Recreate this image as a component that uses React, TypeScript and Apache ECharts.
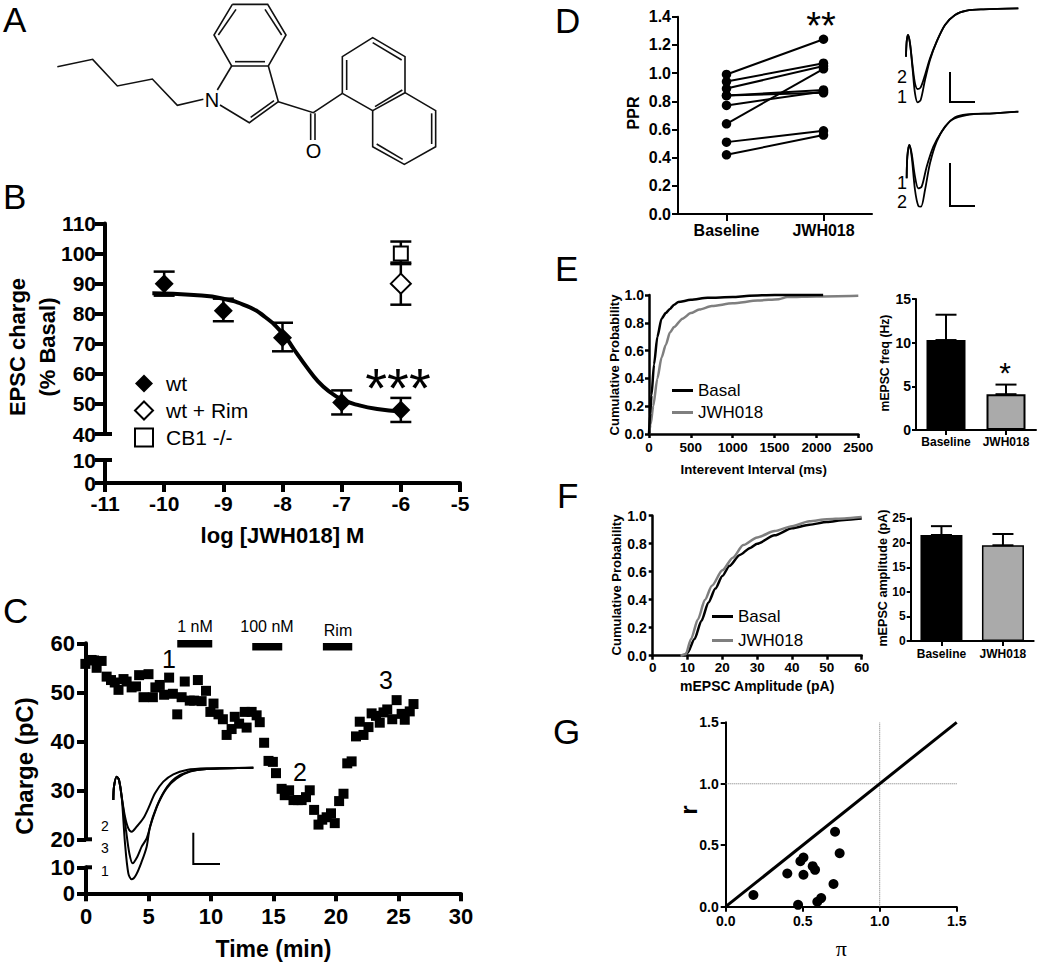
import React, { useEffect, useRef } from "react";
import * as echarts from "echarts";

const FONT = "Liberation Sans";

// Panel B
const bDoses = [-10, -9, -8, -7, -6];
const bWt = [90, 81, 72, 50.5, 48];
const bWtLow = [86, 77.5, 67.5, 46.5, 44];
const bWtHigh = [94, 85, 77, 54.5, 52];
const bRim = [[-6, 90]];
const bRimErr = [[-6, 83, 96.5]];
const bCb1 = [[-6, 100]];
const bCb1Err = [[-6, 97, 104]];
const bFit = [[-10.2, 86.8], [-9.5, 86.2], [-9, 85], [-8.6, 82.5], [-8.3, 79], [-8, 73.5], [-7.8, 68], [-7.6, 62.5], [-7.4, 57.5], [-7.2, 54], [-7, 51.5], [-6.7, 49.5], [-6.4, 48.3], [-6, 47.5]];

// Panel C
const cCharge = [
  [-0.05, 55.8], [0.45, 56.6], [0.65, 56.5], [0.85, 55], [1.25, 56.4], [1.65, 53.2], [2, 52.5], [2.3, 52], [2.6, 50.5], [3, 52.7],
  [3.25, 52.2], [3.65, 51], [4, 51.2], [4.25, 53.5], [4.6, 49], [5, 53.7], [5.35, 49], [5.55, 51], [5.9, 51.5], [6.25, 49.5],
  [6.65, 53], [6.95, 49.7], [7.3, 45.5], [7.65, 49], [7.9, 52.2], [8.3, 48.3], [8.65, 48.3], [8.95, 52.5], [9.25, 48.2], [9.6, 50.3],
  [10.2, 47.7], [9.95, 46], [10.6, 45.5], [10.95, 44.5], [11.25, 41.3], [11.65, 42.5], [11.9, 45], [12.25, 43.6], [12.7, 46], [12.85, 42.8],
  [13.25, 46], [13.65, 45.3], [13.9, 43.9], [14.25, 39.7], [14.6, 36], [14.95, 35.8], [15.2, 33.5], [15.65, 30.3], [15.9, 29], [16.25, 30],
  [16.6, 28], [16.95, 28], [17.25, 28], [17.6, 28.6], [17.9, 30], [18.25, 26], [18.6, 23], [18.9, 24], [19.25, 24.5], [19.6, 25.3],
  [19.9, 23.3], [20.25, 27.8], [20.6, 29.3], [20.9, 35.5], [21.25, 35.9], [21.6, 41], [21.9, 44], [22.2, 41.3], [22.6, 42.9], [22.85, 45.7],
  [23.2, 45.2], [23.5, 43.8], [23.8, 45.9], [24.1, 46.5], [24.5, 44.5], [24.85, 48.4], [25.25, 45.6], [25.5, 44.4], [25.9, 46.1], [26.2, 47.6],
];
const cBar1nM = [[7.3, 59.9], [10.1, 59.9]];
const cBar100nM = [[13.3, 59.3], [15.7, 59.3]];
const cBarRim = [[18.95, 59.3], [21.3, 59.3]];
const cTrace2 = [[340, 630], [342, 590], [350, 560], [357, 570], [365, 620], [375, 680], [385, 715], [395, 725], [410, 710], [430, 685], [445, 655], [465, 610], [490, 575], [520, 553], [560, 540], [620, 535], [760, 533]];
const cTrace3 = [[340, 630], [342, 590], [350, 560], [357, 570], [365, 620], [378, 720], [388, 790], [398, 820], [412, 800], [425, 770], [440, 745], [455, 695], [475, 640], [500, 595], [530, 565], [570, 545], [620, 537], [760, 533]];
const cTrace1 = [[340, 630], [342, 590], [350, 560], [357, 570], [365, 620], [375, 760], [385, 850], [395, 868], [408, 855], [425, 815], [440, 770], [450, 710], [470, 650], [495, 600], [525, 565], [565, 545], [620, 537], [760, 533]];

// Panel D
const dCategories = ["Baseline", "JWH018"];
const dBaseline = [0.99, 0.94, 0.89, 0.84, 0.84, 0.77, 0.64, 0.51, 0.42];
const dJwh = [1.24, 1.07, 1.05, 0.86, 0.88, 0.87, 1.03, 0.59, 0.56];
const dTopTrace2 = [[1068, 170], [1070, 125], [1074, 105], [1080, 130], [1088, 200], [1095, 250], [1103, 267], [1112, 262], [1125, 225], [1140, 175], [1160, 125], [1185, 75], [1215, 45], [1250, 32], [1300, 28], [1405, 25]];
const dTopTrace1 = [[1068, 170], [1070, 125], [1074, 105], [1080, 130], [1088, 210], [1095, 280], [1103, 307], [1112, 300], [1125, 240], [1140, 180], [1160, 125], [1185, 75], [1215, 45], [1250, 32], [1300, 28], [1405, 25]];
const dLowTrace1 = [[1070, 535], [1072, 470], [1078, 435], [1085, 460], [1095, 530], [1105, 565], [1115, 560], [1130, 500], [1150, 440], [1175, 395], [1205, 360], [1250, 345], [1330, 340], [1405, 335]];
const dLowTrace2 = [[1070, 535], [1072, 470], [1078, 435], [1085, 470], [1095, 570], [1105, 618], [1113, 620], [1125, 570], [1140, 490], [1160, 425], [1185, 380], [1215, 352], [1250, 343], [1330, 340], [1405, 335]];

// Panel E
const eBasal = [[0, 0], [15, 0.15], [30, 0.28], [60, 0.5], [100, 0.7], [150, 0.83], [200, 0.87], [250, 0.9], [300, 0.93], [350, 0.95], [500, 0.965], [700, 0.98], [1000, 0.985], [1200, 0.995], [1500, 1], [2080, 1]];
const eJwh = [[0, 0], [20, 0.07], [50, 0.2], [100, 0.4], [150, 0.55], [200, 0.64], [250, 0.73], [300, 0.77], [400, 0.83], [500, 0.87], [600, 0.895], [750, 0.92], [1000, 0.94], [1300, 0.96], [1550, 0.97], [1650, 0.985], [2000, 0.99], [2500, 0.995]];
const eBars = [10.3, 4.1];
const eBarErr = [13.2, 5.2];

// Panel F
const fBasal = [[9, 0], [10, 0.02], [12, 0.12], [14, 0.25], [16, 0.38], [18, 0.48], [20, 0.57], [22, 0.64], [25, 0.72], [28, 0.77], [30, 0.8], [35, 0.86], [40, 0.91], [45, 0.935], [50, 0.955], [55, 0.97], [60, 0.98]];
const fJwh = [[8, 0], [9.5, 0.01], [11, 0.12], [13, 0.26], [15, 0.4], [17, 0.5], [20, 0.61], [23, 0.7], [26, 0.79], [30, 0.845], [35, 0.89], [40, 0.925], [45, 0.96], [50, 0.975], [55, 0.98], [60, 0.99]];
const fBars = [21.6, 19.5];
const fBarErr = [23.4, 21.8];

// Panel G
const gPoints = [[0.18, 0.095], [0.4, 0.27], [0.47, 0.015], [0.485, 0.37], [0.505, 0.4], [0.505, 0.26], [0.565, 0.33], [0.58, 0.3], [0.595, 0.04], [0.62, 0.07], [0.7, 0.185], [0.71, 0.61], [0.74, 0.435]];
const gIdentity = [[0, 0], [1.5, 1.5]];
const gGuideV = [[1, 0], [1, 1.5]];
const gGuideH = [[0, 1], [1.5, 1]];

// Panel A: skeletal formula strokes, in units of a third of a pixel
const moleculeStrokes = [
  [[172, 200], [278, 178], [352, 258], [457, 237], [532, 316], [610, 298]],
  [[697, 13], [803, 13], [858, 105], [805, 198], [695, 198], [642, 105], [697, 13]],
  [[708, 28], [655, 105]], [[795, 28], [845, 105]], [[705, 185], [795, 185]],
  [[695, 198], [652, 270]], [[660, 315], [748, 368], [835, 305], [805, 198]], [[752, 352], [822, 302]],
  [[835, 305], [940, 338], [1027, 280]], [[932, 340], [932, 420]], [[945, 340], [945, 420]],
  [[1027, 280], [1027, 170], [1118, 113], [1215, 170], [1215, 278], [1118, 332], [1027, 280]],
  [[1040, 180], [1040, 270]], [[1118, 128], [1205, 180]], [[1125, 320], [1207, 270]],
  [[1215, 278], [1307, 332], [1307, 440], [1213, 493], [1118, 440], [1118, 332]],
  [[1295, 340], [1295, 432]], [[1208, 478], [1130, 432]],
];

function buildOption() {
  const grid: any[] = [];
  const xAxis: any[] = [];
  const yAxis: any[] = [];
  const series: any[] = [];

  const axisBase = (lw: number, tick: number, size: number, margin: number, digits?: number) => ({
    axisLine: { show: true, onZero: false, lineStyle: { color: "#000", width: lw } },
    axisTick: { show: true, length: tick, lineStyle: { color: "#000", width: lw } },
    axisLabel: {
      color: "#000", fontFamily: FONT, fontWeight: "bold", fontSize: size, margin, interval: 0,
      formatter: digits !== undefined ? (v: number) => v.toFixed(digits) : (v: any) => String(v),
    },
    splitLine: { show: false },
  });
  const hidden = { show: false, splitLine: { show: false } };
  const addGrid = (box: number[], x: any, y: any) => {
    grid.push({ left: box[0], top: box[1], width: box[2], height: box[3], containLabel: false });
    xAxis.push({ gridIndex: grid.length - 1, ...x });
    yAxis.push({ gridIndex: grid.length - 1, ...y });
    return grid.length - 1;
  };
  const on = (g: number) => ({ xAxisIndex: g, yAxisIndex: g });
  const errorBars = (g: number, data: number[][], cap: number, lw: number, z = 3) => ({
    type: "custom", ...on(g), data, z, silent: true, clip: false,
    encode: { x: 0, y: [1, 2] },
    renderItem: (_: any, api: any) => {
      const a = api.coord([api.value(0), api.value(1)]);
      const b = api.coord([api.value(0), api.value(2)]);
      const style = { stroke: "#000", lineWidth: lw, fill: "none" };
      return {
        type: "group",
        children: [
          { type: "line", shape: { x1: a[0], y1: a[1], x2: b[0], y2: b[1] }, style },
          { type: "line", shape: { x1: a[0] - cap, y1: a[1], x2: a[0] + cap, y2: a[1] }, style },
          { type: "line", shape: { x1: b[0] - cap, y1: b[1], x2: b[0] + cap, y2: b[1] }, style },
        ],
      };
    },
  });
  const line = (g: number, name: string | undefined, data: number[][], color: string, width: number, extra: any = {}) => ({
    type: "line", name, ...on(g), data, symbol: "none", silent: true, clip: false, color,
    itemStyle: { color }, lineStyle: { color, width }, ...extra,
  });
  const curve = { smooth: 0.25, smoothMonotone: "x" };

  // B
  const bTop = addGrid([105, 223.5, 355, 210.5],
    { type: "value", min: -11, max: -5, ...hidden },
    { type: "value", min: 40, max: 110, interval: 10, ...axisBase(4, 10, 21, 9) });
  const bLow = addGrid([105, 460, 355, 23],
    { type: "value", min: -11, max: -5, interval: 1, ...axisBase(4, 9, 21, 10), name: "log [JWH018] M", nameLocation: "middle", nameGap: 41, nameTextStyle: { color: "#000", fontFamily: FONT, fontWeight: "bold", fontSize: 22 } },
    { type: "value", min: 0, max: 10, interval: 10, ...axisBase(4, 10, 21, 9) });
  series.push(line(bTop, undefined, bFit, "#000", 4, { smooth: true, z: 2 }));
  series.push(errorBars(bTop, bDoses.map((d, i) => [d, bWtLow[i], bWtHigh[i]]), 10.5, 2.5));
  series.push(errorBars(bTop, bRimErr, 10.5, 2.5));
  series.push(errorBars(bTop, bCb1Err, 10.5, 2.5));
  const scatter = (g: number, name: string | undefined, data: number[][], symbol: string, size: number, filled: boolean, z = 5) => ({
    type: "scatter", name, ...on(g), data, symbol, symbolSize: size, z, silent: true, clip: false,
    itemStyle: filled ? { color: "#000", opacity: 1 } : { color: "#fff", borderColor: "#000", borderWidth: 2, opacity: 1 },
  });
  series.push(scatter(bTop, "wt", bDoses.map((d, i) => [d, bWt[i]]), "diamond", 19, true));
  series.push(scatter(bTop, "wt + Rim", bRim, "diamond", 20, false));
  series.push(scatter(bTop, "CB1 -/-", bCb1, "rect", 14, false));

  // C
  const cTop = addGrid([86, 643.3, 375, 196],
    { type: "value", min: 0, max: 30, ...hidden },
    { type: "value", min: 20, max: 60, interval: 10, ...axisBase(4, 9, 22, 11) });
  const cLow = addGrid([86, 867.3, 375, 26],
    { type: "value", min: 0, max: 30, interval: 5, ...axisBase(4, 8, 22, 12), name: "Time (min)", nameLocation: "middle", nameGap: 44, nameTextStyle: { color: "#000", fontFamily: FONT, fontWeight: "bold", fontSize: 23 } },
    { type: "value", min: 0, max: 10, interval: 10, ...axisBase(4, 9, 22, 11) });
  series.push(scatter(cTop, undefined, cCharge, "rect", 10, true));
  series.push(line(cTop, undefined, cBar1nM, "#000", 7.5));
  series.push(line(cTop, undefined, cBar100nM, "#000", 7.5));
  series.push(line(cTop, undefined, cBarRim, "#000", 7.5));
  const cInset = addGrid([100, 756.67, 166.67, 133.33],
    { type: "value", min: 300, max: 800, ...hidden },
    { type: "value", min: 500, max: 900, inverse: true, ...hidden });
  [cTrace2, cTrace3, cTrace1].forEach((t) => series.push(line(cInset, undefined, t, "#000", 2, { smooth: 0.3 })));

  // D
  const dMain = addGrid([678, 16.7, 194, 197.3],
    { type: "category", data: dCategories, ...axisBase(2, 7, 16, 8), axisTick: { show: true, alignWithLabel: true, length: 7, lineStyle: { color: "#000", width: 2 } } },
    { type: "value", min: 0, max: 1.4, interval: 0.2, ...axisBase(2, 6, 16, 7, 1) });
  dBaseline.forEach((b, i) => series.push({
    type: "line", ...on(dMain), data: [b, dJwh[i]], symbol: "circle", symbolSize: 9.5, silent: true, clip: false,
    itemStyle: { color: "#000" }, lineStyle: { color: "#000", width: 2 },
  }));
  const dInset = addGrid([900, 0, 123.33, 213.33],
    { type: "value", min: 1050, max: 1420, ...hidden },
    { type: "value", min: 0, max: 640, inverse: true, ...hidden });
  [dTopTrace2, dTopTrace1, dLowTrace1, dLowTrace2].forEach((t) => series.push(line(dInset, undefined, t, "#000", 1.8, { smooth: 0.3 })));

  // E
  const eCum = addGrid([649, 295, 209.3, 139],
    { type: "value", min: 0, max: 2500, interval: 500, ...axisBase(2.5, 4, 13.5, 6), name: "Interevent Interval (ms)", nameLocation: "middle", nameGap: 29, nameTextStyle: { color: "#000", fontFamily: FONT, fontWeight: "bold", fontSize: 13.3 } },
    { type: "value", min: 0, max: 1, interval: 0.2, ...axisBase(2.5, 4, 14, 5, 1) });
  series.push(line(eCum, "JWH018", eJwh, "#7f7f7f", 2.5, curve));
  series.push(line(eCum, "Basal", eBasal, "#000", 2.5, curve));
  const eBar = addGrid([916, 299, 120, 131],
    { type: "category", data: dCategories, ...axisBase(2, 5, 12, 6), axisTick: { show: true, alignWithLabel: true, length: 5, lineStyle: { color: "#000", width: 2 } } },
    { type: "value", min: 0, max: 15, interval: 5, ...axisBase(2, 4, 14, 5) });
  series.push({
    type: "bar", ...on(eBar), barWidth: 39, silent: true, z: 2,
    data: [
      { value: eBars[0], itemStyle: { color: "#000" } },
      { value: eBars[1], itemStyle: { color: "#aaaaaa", borderColor: "#000", borderWidth: 2 } },
    ],
  });
  series.push(errorBars(eBar, eBars.map((v, i) => [i, v, eBarErr[i]]), 10.5, 2));

  // F
  const fCum = addGrid([652.7, 515.7, 209, 140],
    { type: "value", min: 0, max: 60, interval: 10, ...axisBase(2.5, 4, 13.5, 5), name: "mEPSC Amplitude (pA)", nameLocation: "middle", nameGap: 23, nameTextStyle: { color: "#000", fontFamily: FONT, fontWeight: "bold", fontSize: 14 } },
    { type: "value", min: 0, max: 1, interval: 0.2, ...axisBase(2.5, 4, 14, 6, 1) });
  series.push(line(fCum, "Basal", fBasal, "#000", 2.5, curve));
  series.push(line(fCum, "JWH018", fJwh, "#7f7f7f", 2.5, curve));
  const fBar = addGrid([910.7, 518.3, 123, 122.7],
    { type: "category", data: dCategories, ...axisBase(2, 5, 12, 7), axisTick: { show: true, alignWithLabel: true, length: 5, lineStyle: { color: "#000", width: 2 } } },
    { type: "value", min: 0, max: 25, interval: 5, ...axisBase(2, 4, 12, 5) });
  series.push({
    type: "bar", ...on(fBar), barWidth: 42, silent: true, z: 2,
    data: [
      { value: fBars[0], itemStyle: { color: "#000" } },
      { value: fBars[1], itemStyle: { color: "#aaaaaa", borderColor: "#000", borderWidth: 1.5 } },
    ],
  });
  series.push(errorBars(fBar, fBars.map((v, i) => [i, v, fBarErr[i]]), 10.5, 2));

  // G
  const gMain = addGrid([725.7, 722.3, 231, 184.4],
    { type: "value", min: 0, max: 1.5, interval: 0.5, ...axisBase(2, 5, 14, 7, 1), name: "π", nameLocation: "middle", nameGap: 31, nameTextStyle: { color: "#000", fontFamily: "Liberation Serif", fontSize: 22 } },
    { type: "value", min: 0, max: 1.5, interval: 0.5, ...axisBase(2, 5, 14, 7, 1) });
  series.push(line(gMain, undefined, gGuideV, "#777", 1, { lineStyle: { color: "#777", width: 1, type: "dotted" } }));
  series.push(line(gMain, undefined, gGuideH, "#777", 1, { lineStyle: { color: "#777", width: 1, type: "dotted" } }));
  series.push(line(gMain, undefined, gIdentity, "#000", 3));
  series.push(scatter(gMain, undefined, gPoints, "circle", 10, true));

  // Overlay texts and drawn marks
  const text = (t: string, x: number, y: number, size: number, o: any = {}) => ({
    type: "text", x, y, rotation: o.rot ? Math.PI / 2 : 0, silent: true, z: 20,
    style: {
      text: t, fontFamily: o.family || FONT, fontSize: size, fontWeight: o.bold ? "bold" : "normal",
      fill: "#000", textAlign: o.align || "center", textVerticalAlign: "middle", verticalAlign: "middle",
    },
  });
  const stroke = (pts: number[][], lw: number, color = "#000") => ({
    type: "polyline", silent: true, z: 20, shape: { points: pts }, style: { stroke: color, lineWidth: lw, fill: "none" },
  });
  const graphic: any[] = [
    text("A", 3, 19, 35, { align: "left" }),
    text("B", 3, 196, 35, { align: "left" }),
    text("C", 3, 610, 35, { align: "left" }),
    text("D", 555, 20, 35, { align: "left" }),
    text("E", 555, 268, 35, { align: "left" }),
    text("F", 557, 495, 35, { align: "left" }),
    text("G", 553, 731, 35, { align: "left" }),
    ...moleculeStrokes.map((s) => stroke(s.map((p) => [p[0] / 3, p[1] / 3]), 1.6, "#111")),
    text("N", 212, 100, 20),
    text("O", 313.5, 151, 20),
    text("EPSC charge", 17, 347, 22, { bold: true, rot: true }),
    text("(% Basal)", 47, 347, 22, { bold: true, rot: true }),
    text("***", 398, 387, 56, { bold: false }),
    stroke([[105, 434], [112, 434]], 4),
    stroke([[105, 460], [112, 460]], 4),
    text("Charge (pC)", 24, 766, 24, { bold: true, rot: true }),
    text("1 nM", 195, 626, 16),
    text("100 nM", 267, 626, 16),
    text("Rim", 338, 630, 16),
    text("1", 169, 659, 25),
    text("2", 300, 772, 25),
    text("3", 386, 680, 25),
    text("2", 105, 826, 14),
    text("3", 105, 848, 14),
    text("1", 105, 871, 14),
    stroke([[86, 839.3], [92, 839.3]], 4),
    stroke([[86, 867.3], [92, 867.3]], 4),
    stroke([[193.3, 832.7], [193.3, 864], [220, 864]], 2),
    text("PPR", 633, 113, 16, { bold: true, rot: true }),
    text("**", 821, 26, 38),
    text("2", 902, 77, 18),
    text("1", 902, 97, 18),
    text("1", 902, 183, 18),
    text("2", 902, 202, 18),
    stroke([[950, 72], [950, 102], [975, 102]], 2),
    stroke([[950, 163], [950, 206], [975, 206]], 2),
    text("Cumulative Probability", 614, 365, 13, { bold: true, rot: true }),
    text("mEPSC freq (Hz)", 885, 363, 12.2, { bold: true, rot: true }),
    text("*", 1005, 372, 30),
    text("Cumulative Probability", 616, 585, 13, { bold: true, rot: true }),
    text("mEPSC amplitude (pA)", 883, 578, 12.6, { bold: true, rot: true }),
    text("r", 688, 810, 24, { bold: true, rot: true }),
  ];

  const legend = [
    {
      left: 134, top: 373, orient: "vertical", padding: 0, itemWidth: 18, itemHeight: 18, itemGap: 6, selectedMode: false,
      data: ["wt", "wt + Rim", "CB1 -/-"],
      textStyle: { color: "#000", fontFamily: FONT, fontSize: 21, padding: [0, 0, 0, 8] },
    },
    {
      left: 672, top: 382, orient: "vertical", padding: 0, itemWidth: 21, itemHeight: 3, itemGap: 5, icon: "rect", selectedMode: false,
      data: ["Basal", "JWH018"],
      textStyle: { color: "#000", fontFamily: FONT, fontSize: 17 },
    },
    {
      left: 712, top: 608, orient: "vertical", padding: 0, itemWidth: 21, itemHeight: 3, itemGap: 7, icon: "rect", selectedMode: false,
      data: ["Basal", "JWH018"],
      textStyle: { color: "#000", fontFamily: FONT, fontSize: 17 },
    },
  ];

  return { animation: false, backgroundColor: "#fff", tooltip: { show: false }, grid, xAxis, yAxis, series, graphic, legend };
}

export default function App() {
  const ref = useRef<HTMLDivElement>(null);
  useEffect(() => {
    if (!ref.current) return;
    const chart = echarts.init(ref.current, undefined, { renderer: "svg" });
    chart.setOption(buildOption() as any);
    return () => chart.dispose();
  }, []);
  return <div ref={ref} style={{ position: "absolute", left: 0, top: 0, width: 1039, height: 962 }} />;
}
